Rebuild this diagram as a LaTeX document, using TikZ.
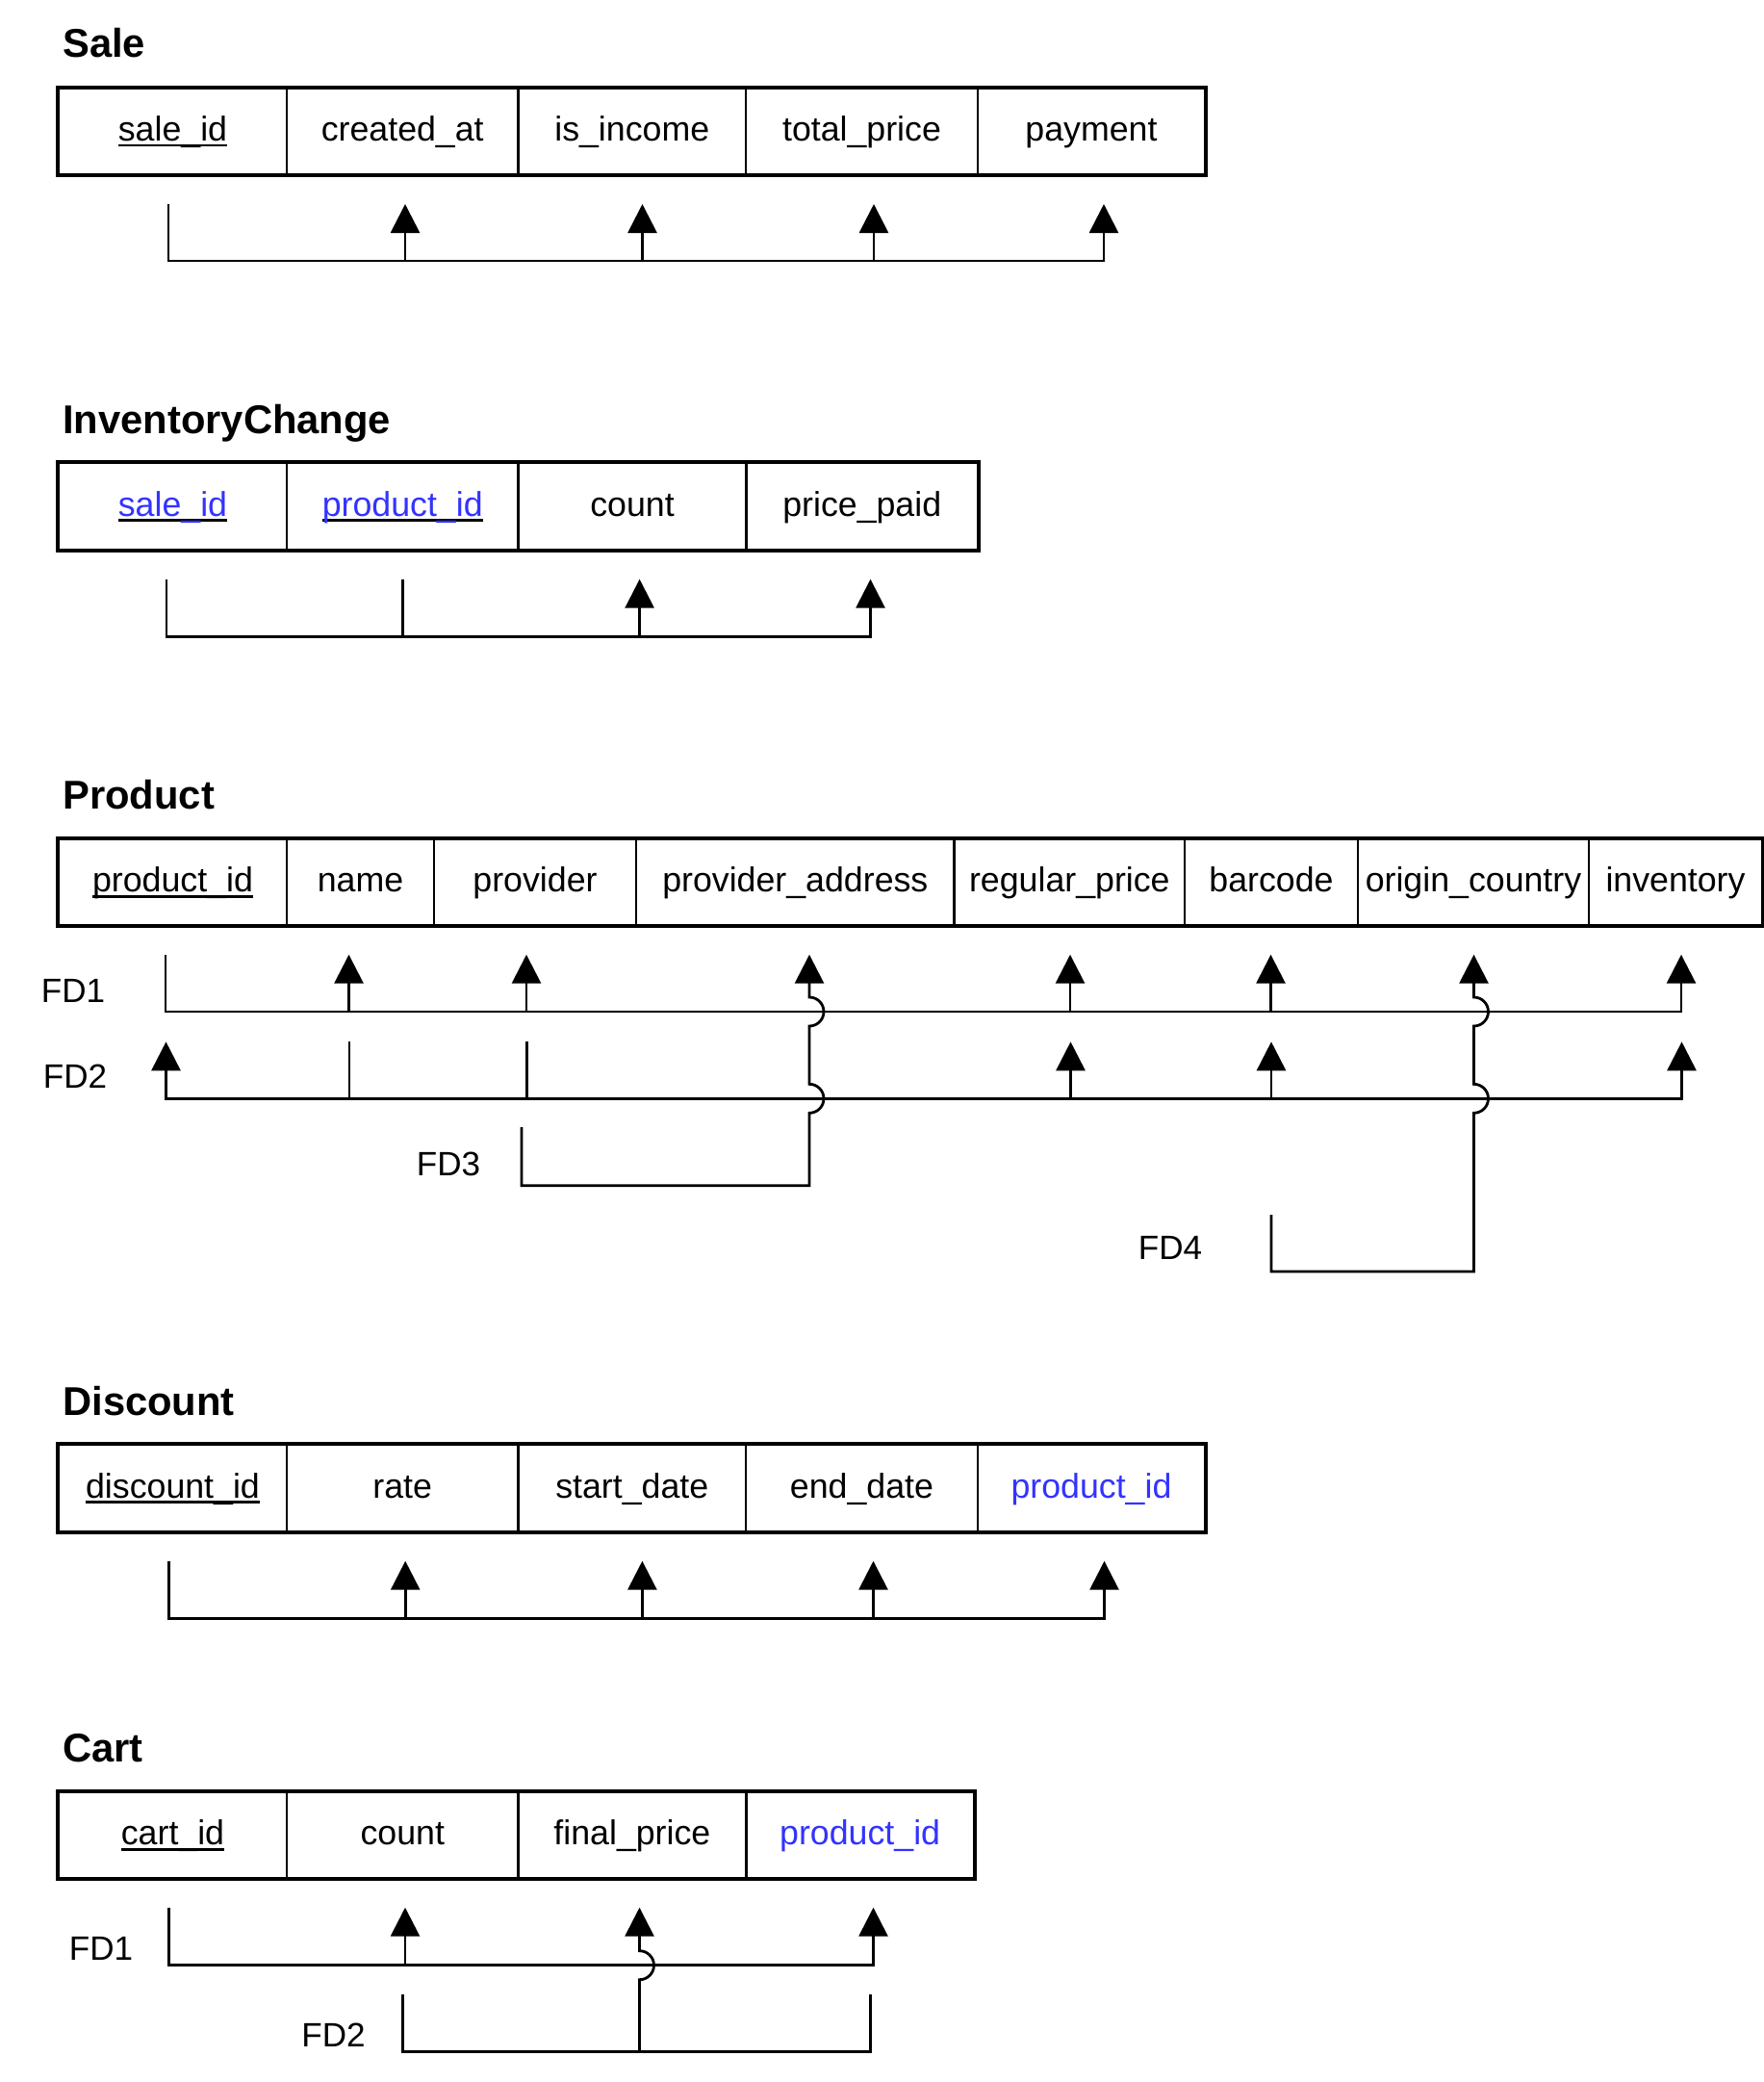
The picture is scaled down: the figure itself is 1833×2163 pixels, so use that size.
\documentclass[tikz,border=0pt]{standalone}
\usepackage{fontspec}
\setmainfont{Liberation Sans}
\usetikzlibrary{arrows.meta,calc}

\definecolor{fkblue}{RGB}{51,51,255}
\newcommand{\cellfont}{\fontsize{26.8pt}{30pt}\selectfont}
\newcommand{\titlefont}{\fontsize{31.3pt}{35pt}\selectfont\bfseries}
\newcommand{\fdfont}{\fontsize{26.3pt}{29pt}\selectfont}
\newcommand{\pk}[1]{\setbox0\hbox{#1}\rlap{\color{black}\rule[-4.45pt]{\wd0}{2pt}}\box0}
\newcommand{\fk}[1]{\textcolor{fkblue}{#1}}

\tikzset{
  cell/.style={draw, line width=1.9pt, minimum height=67.5pt, inner sep=0pt,
    font=\cellfont, text height=19pt, text depth=4pt},
  tableframe/.style={line width=2.1pt},
  tabletitle/.style={anchor=base west, inner sep=0pt, font=\titlefont},
  fdlabel/.style={inner sep=0pt, font=\fdfont},
  fdline/.style={line width=2.1pt},
  fdarrow/.style={fdline, ->}
}

\begin{document}
\begin{tikzpicture}[x=0.75pt, y=-0.75pt, >={Triangle[width=22.5pt,length=22.5pt]}]
\useasboundingbox (0,0) rectangle (1833,2163);

% Sale
\node[tabletitle] (sale) at (65,59.3) {Sale};
\foreach \nm/\xa/\xb/\txt in {s1/61/298/{\pk{sale\_id}}, s2/298/538.5/{created\_at},
    s3/538.5/775/{is\_income}, s4/775/1016/{total\_price}, s5/1016/1252/{payment}}
  \node[cell, minimum width={(\xb-\xa)*0.75pt}] (\nm) at ({(\xa+\xb)/2},136.5) {\txt};
\draw[tableframe] (s1.north west) rectangle (s5.south east);

\foreach \nm/\x in {sa/175, sb/421, sc/667.5, sd/908, se/1147}
  \coordinate (\nm) at (\x,212);
\coordinate (sbus) at (0,271);
\draw[fdarrow] (sa) |- (se |- sbus) -- (se);
\foreach \nm in {sb,sc,sd} \draw[fdarrow] (\nm |- sbus) -- (\nm);

% InventoryChange
\node[tabletitle] (invchange) at (65,450) {InventoryChange};
\foreach \nm/\xa/\xb/\txt in {i1/61/298/{\pk{\fk{sale\_id}}}, i2/298/538.5/{\pk{\fk{product\_id}}},
    i3/538.5/775.5/{count}, i4/775.5/1016/{price\_paid}}
  \node[cell, minimum width={(\xb-\xa)*0.75pt}] (\nm) at ({(\xa+\xb)/2},526) {\txt};
\draw[tableframe] (i1.north west) rectangle (i4.south east);

\foreach \nm/\x in {ia/173, ib/418.6, ic/664.6, id/904.5}
  \coordinate (\nm) at (\x,601.7);
\coordinate (ibus) at (0,661.3);
\draw[fdarrow] (ia) |- (id |- ibus) -- (id);
\draw[fdline] (ib) -- (ib |- ibus);
\draw[fdarrow] (ic |- ibus) -- (ic);

% Product
\node[tabletitle] (product) at (65,840) {Product};
\foreach \nm/\xa/\xb/\txt in {p1/61/298/{\pk{product\_id}}, p2/298/451/{name},
    p3/451/661/{provider}, p4/661/991.7/{provider\_address}, p5/991.7/1231/{regular\_price},
    p6/1231/1411/{barcode}, p7/1411/1651/{origin\_country}, p8/1651/1831/{inventory}}
  \node[cell, minimum width={(\xb-\xa)*0.75pt}] (\nm) at ({(\xa+\xb)/2},916.7) {\txt};
\draw[tableframe] (p1.north west) rectangle (p8.south east);

\foreach \nm/\x in {u1/172, u2/362.5, u3/547, u4/841, u5/1112, u6/1320.5, u7/1531.5, u8/1747}
  \coordinate (\nm) at (\x,991.7);
\foreach \nm/\x in {v1/172.5, v2/363, v3/547.5, v5/1112.5, v6/1321, v8/1747.5}
  \coordinate (\nm) at (\x,1082.3);
\coordinate (bus1) at (0,1051);
\coordinate (bus2) at (0,1141.3);

\node[fdlabel] (fd1) at (76,1029) {FD1};
\draw[fdarrow] (u1) |- (u8 |- bus1) -- (u8);
\foreach \nm in {u2,u3,u5,u6} \draw[fdarrow] (\nm |- bus1) -- (\nm);

\node[fdlabel] (fd2) at (78,1118) {FD2};
\draw[fdline, <->] (v1) |- (v8 |- bus2) -- (v8);
\foreach \nm in {v2,v3} \draw[fdline] (\nm) -- (\nm |- bus2);
\foreach \nm in {v5,v6} \draw[fdarrow] (\nm |- bus2) -- (\nm);

\node[fdlabel] (fd3) at (466,1209) {FD3};
\coordinate (f3s) at (542,1171);
\coordinate (f3c) at (841,1231.7);
\draw[fdarrow] (f3s) |- (f3c)
  -- ($(f3c |- bus2)+(0,15)$) arc[start angle=-90, end angle=90, radius=11.25pt]
  -- ($(f3c |- bus1)+(0,15)$) arc[start angle=-90, end angle=90, radius=11.25pt]
  -- (u4);

\node[fdlabel] (fd4) at (1216,1296.5) {FD4};
\coordinate (f4s) at (1321,1262);
\coordinate (f4c) at (1531.5,1321);
\draw[fdarrow] (f4s) |- (f4c)
  -- ($(f4c |- bus2)+(0,15)$) arc[start angle=-90, end angle=90, radius=11.25pt]
  -- ($(f4c |- bus1)+(0,15)$) arc[start angle=-90, end angle=90, radius=11.25pt]
  -- (u7);

% Discount
\node[tabletitle] (discount) at (65,1470) {Discount};
\foreach \nm/\xa/\xb/\txt in {d1/61/298/{\pk{discount\_id}}, d2/298/538.5/{rate},
    d3/538.5/775/{start\_date}, d4/775/1016/{end\_date}, d5/1016/1252/{\fk{product\_id}}}
  \node[cell, minimum width={(\xb-\xa)*0.75pt}] (\nm) at ({(\xa+\xb)/2},1546) {\txt};
\draw[tableframe] (d1.north west) rectangle (d5.south east);

\foreach \nm/\x in {da/175.4, db/421.2, dc/667.4, dd/907.5, de/1147.5}
  \coordinate (\nm) at (\x,1621.7);
\coordinate (dbus) at (0,1681.3);
\draw[fdarrow] (da) |- (de |- dbus) -- (de);
\foreach \nm in {db,dc,dd} \draw[fdarrow] (\nm |- dbus) -- (\nm);

% Cart
\node[tabletitle] (cart) at (65,1830) {Cart};
\foreach \nm/\xa/\xb/\txt in {c1/61/298/{\pk{cart\_id}}, c2/298/538.5/{count},
    c3/538.5/775.3/{final\_price}, c4/775.3/1012/{\fk{product\_id}}}
  \node[cell, minimum width={(\xb-\xa)*0.75pt}] (\nm) at ({(\xa+\xb)/2},1906.7) {\txt};
\draw[tableframe] (c1.north west) rectangle (c4.south east);

\foreach \nm/\x in {ca/175.4, cb/421, cc/664.5, cd/907.5}
  \coordinate (\nm) at (\x,1981.7);
\coordinate (cbus1) at (0,2041.7);
\coordinate (cbus2) at (0,2131.7);
\coordinate (cx) at (418.4,2071.7);
\coordinate (cy) at (904.3,2071.7);

\node[fdlabel] (cfd1) at (105,2024) {FD1};
\draw[fdarrow] (ca) |- (cd |- cbus1) -- (cd);
\draw[fdarrow] (cb |- cbus1) -- (cb);

\node[fdlabel] (cfd2) at (346.6,2114.5) {FD2};
\draw[fdline] (cx) |- (cy |- cbus2) -- (cy);
\draw[fdarrow] (cc |- cbus2)
  -- ($(cc |- cbus1)+(0,15)$) arc[start angle=-90, end angle=90, radius=11.25pt]
  -- (cc);
\end{tikzpicture}
\end{document}
